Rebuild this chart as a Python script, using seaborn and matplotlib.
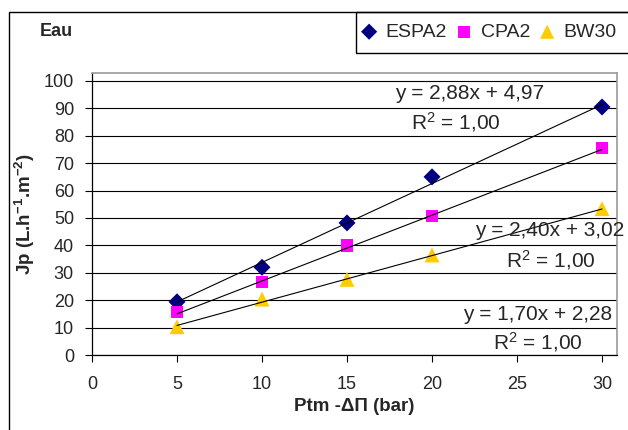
import numpy as np
import pandas as pd
import matplotlib
matplotlib.use('Agg')
import matplotlib.pyplot as plt
import seaborn as sns
from matplotlib.patches import Rectangle

# data
pressure = [5, 10, 15, 20, 30]
espa2 = [19.4, 32.0, 48.2, 65.0, 90.5]
cpa2 = [15.6, 26.6, 40.0, 50.8, 75.5]
bw30 = [10.3, 20.4, 27.6, 36.5, 53.4]
membranes = ['ESPA2', 'CPA2', 'BW30']
slopes = [2.88, 2.40, 1.70]
intercepts = [4.97, 3.02, 2.28]
eq_labels = ['y = 2,88x + 4,97', 'y = 2,40x + 3,02', 'y = 1,70x + 2,28']
r2_label = 'R$^2$ = 1,00'

sns.set_style('white')
plt.rcParams['font.family'] = ['Liberation Sans', 'DejaVu Sans']
plt.rcParams['mathtext.fontset'] = 'custom'
plt.rcParams['mathtext.rm'] = 'Liberation Sans'
plt.rcParams['mathtext.bf'] = 'Liberation Sans:bold'
plt.rcParams['mathtext.it'] = 'Liberation Sans:italic'

df = pd.DataFrame({
    'x': pressure * 3,
    'y': espa2 + cpa2 + bw30,
    'membrane': [m for m in membranes for _ in pressure],
})

colors = {'ESPA2': '#000080', 'CPA2': '#FF00FF', 'BW30': '#FFCC00'}
markers = {'ESPA2': 'D', 'CPA2': 's', 'BW30': '^'}
sizes = {'ESPA2': 75, 'CPA2': 80, 'BW30': 115}

fig = plt.figure(figsize=(6.28, 4.30), dpi=100)
ax = fig.add_axes([92 / 628, 1 - 355 / 430, (617 - 92) / 628, (355 - 73) / 430])

for i, m in enumerate(membranes):
    xs = np.array([min(pressure), max(pressure)])
    ax.plot(xs, slopes[i] * xs + intercepts[i], color='black', lw=0.8, zorder=3)

for m in membranes:
    sub = df[df['membrane'] == m]
    sns.scatterplot(data=sub, x='x', y='y', color=colors[m], marker=markers[m],
                    s=sizes[m], edgecolor='none', ax=ax, zorder=2, label=m, legend=False)

ax.set_xlim(0, 30.88)
ax.set_ylim(0, 102.9)
ax.set_xticks(range(0, 31, 5))
ax.set_yticks(range(0, 101, 10))
ax.tick_params(axis='both', direction='out', length=5, width=0.8, color='black',
               labelsize=13, bottom=True, left=True)
ax.tick_params(axis='y', pad=8)
ax.tick_params(axis='x', pad=10)
ax.yaxis.grid(True, color='black', lw=0.8)
ax.set_axisbelow(True)
for side in ['left', 'bottom']:
    ax.spines[side].set_color('black')
    ax.spines[side].set_linewidth(0.9)
for side in ['top', 'right']:
    ax.spines[side].set_color('#999999')
    ax.spines[side].set_linewidth(1.2)

ax.set_xlabel('Ptm -ΔΠ (bar)', fontsize=13.5, fontweight='bold', labelpad=4)
ax.set_ylabel(r'Jp (L.h$^{\mathbf{-1}}$.m$^{\mathbf{-2}}$)', fontsize=13.5,
              fontweight='bold', labelpad=5)

# trendline equations
eq_pos = [(22.2, 95.6, 21.4, 85.0), (26.9, 45.6, 27.0, 34.7), (26.2, 14.6, 26.2, 4.9)]
for i, (ex, ey, rx, ry) in enumerate(eq_pos):
    ax.text(ex, ey, eq_labels[i], fontsize=15, ha='center', va='center', clip_on=False, zorder=4)
    ax.text(rx, ry, r2_label, fontsize=15, ha='center', va='center', clip_on=False, zorder=4)

# chart title
fig.text(40 / 628, 1 - 32 / 430, 'Eau', fontsize=13, fontweight='bold', va='center', ha='left')

# outer chart border and legend box
fig.patches.append(Rectangle((9 / 628, -0.2), 2, 1.2 - 12 / 430, transform=fig.transFigure,
                             fill=False, edgecolor='black', lw=1.0))
fig.patches.append(Rectangle((356 / 628, 1 - 53 / 430), 1, 41 / 430, transform=fig.transFigure,
                             fill=False, edgecolor='black', lw=1.0))

handles, labels = ax.get_legend_handles_labels()
leg = fig.legend(handles, labels, loc='center left', bbox_to_anchor=(355.5 / 628, 1 - 32 / 430),
                 ncol=3, frameon=False, fontsize=14, handletextpad=0.35, columnspacing=0.38,
                 handlelength=1.0, borderpad=0.2, borderaxespad=0, markerscale=0.95)

fig.savefig('out.png', dpi=100)
